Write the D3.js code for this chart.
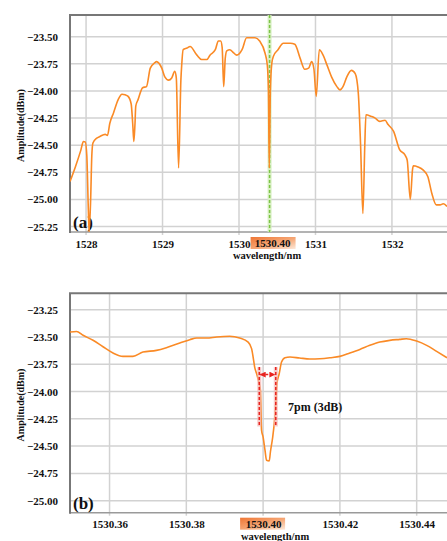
<!DOCTYPE html>
<html>
<head>
<meta charset="utf-8">
<script src="https://cdn.jsdelivr.net/npm/d3@7"></script>
<style>
  body { margin: 0; background: #fff; }
  svg text { font-family: "Liberation Serif", "Times New Roman", serif !important; font-weight: bold; }
</style>
</head>
<body>
<script>
// panel (a): broad spectrum
const wavelengthA = [1527.79, 1527.86, 1527.93, 1527.965, 1527.99, 1528.01, 1528.03, 1528.04, 1528.06, 1528.075,
  1528.09, 1528.14, 1528.18, 1528.25, 1528.28, 1528.31, 1528.36, 1528.42, 1528.47, 1528.51,
  1528.55, 1528.59, 1528.61, 1528.625, 1528.64, 1528.65, 1528.68, 1528.74, 1528.79, 1528.84,
  1528.90, 1528.92, 1528.99, 1529.03, 1529.08, 1529.12, 1529.16, 1529.18, 1529.21, 1529.24,
  1529.25, 1529.27, 1529.32, 1529.36, 1529.45, 1529.51, 1529.58, 1529.62, 1529.69, 1529.73,
  1529.76, 1529.78, 1529.80, 1529.82, 1529.84, 1529.88, 1529.93, 1529.97, 1530.04, 1530.10,
  1530.21, 1530.27, 1530.34, 1530.37, 1530.385, 1530.396, 1530.41, 1530.43, 1530.45, 1530.51,
  1530.58, 1530.67, 1530.73, 1530.80, 1530.86, 1530.91, 1530.95, 1530.98, 1531.01, 1531.05,
  1531.10, 1531.15, 1531.21, 1531.28, 1531.32, 1531.36, 1531.41, 1531.47, 1531.52, 1531.56,
  1531.59, 1531.62, 1531.645, 1531.66, 1531.73, 1531.78, 1531.84, 1531.91, 1531.95, 1532.02,
  1532.10, 1532.17, 1532.20, 1532.24, 1532.27, 1532.28, 1532.34, 1532.41, 1532.47, 1532.52,
  1532.58, 1532.63, 1532.67, 1532.72]
const amplitudeA = [-24.835, -24.70, -24.55, -24.466, -24.47, -24.60, -25.10, -25.30, -25.00, -24.60,
  -24.48, -24.435, -24.42, -24.40, -24.41, -24.30, -24.20, -24.08, -24.03, -24.035,
  -24.05, -24.12, -24.30, -24.466, -24.30, -24.14, -24.08, -23.97, -23.96, -23.79,
  -23.74, -23.73, -23.79, -23.87, -23.90, -23.88, -23.82, -23.88, -24.71, -23.90,
  -23.77, -23.62, -23.605, -23.59, -23.67, -23.71, -23.71, -23.67, -23.62, -23.54,
  -23.54, -23.60, -23.96, -23.70, -23.63, -23.62, -23.65, -23.67, -23.62, -23.51,
  -23.51, -23.54, -23.65, -23.76, -24.00, -24.71, -24.00, -23.74, -23.68, -23.62,
  -23.56, -23.56, -23.57, -23.70, -23.80, -23.79, -23.73, -23.80, -24.05, -23.62,
  -23.67, -23.76, -23.87, -23.96, -23.99, -23.96, -23.87, -23.81, -23.84, -24.02,
  -24.50, -25.13, -24.50, -24.22, -24.235, -24.25, -24.28, -24.27, -24.31, -24.37,
  -24.54, -24.59, -24.64, -25.00, -24.72, -24.69, -24.70, -24.73, -24.79, -24.94,
  -25.05, -25.05, -25.04, -25.065]

// panel (b): zoom on the 1530.40 nm notch
const wavelengthB = [1530.3497, 1530.3514, 1530.3531, 1530.3557, 1530.3583, 1530.3609, 1530.3635, 1530.3661, 1530.3687, 1530.3722,
  1530.3748, 1530.3766, 1530.3783, 1530.3809, 1530.3827, 1530.3853, 1530.3879, 1530.3913, 1530.3939, 1530.3961,
  1530.3970, 1530.3974, 1530.3978, 1530.3983, 1530.3990, 1530.3993, 1530.3996, 1530.4000, 1530.4005, 1530.4009,
  1530.4016, 1530.4019, 1530.4025, 1530.4029, 1530.4033, 1530.4036, 1530.4042, 1530.4048, 1530.4057, 1530.4070,
  1530.4095, 1530.4122, 1530.4148, 1530.4174, 1530.4200, 1530.4226, 1530.4252, 1530.4278, 1530.4304, 1530.4330,
  1530.4356, 1530.4373, 1530.4400, 1530.4426, 1530.4452, 1530.4479]
const amplitudeB = [-23.455, -23.45, -23.485, -23.53, -23.59, -23.647, -23.678, -23.678, -23.638, -23.623,
  -23.598, -23.577, -23.556, -23.525, -23.51, -23.51, -23.50, -23.494, -23.51, -23.547,
  -23.607, -23.684, -23.776, -23.836, -23.928, -23.989, -24.355, -24.417, -24.54, -24.63,
  -24.636, -24.554, -24.417, -24.294, -24.11, -23.928, -23.836, -23.73, -23.69, -23.684,
  -23.693, -23.702, -23.699, -23.69, -23.678, -23.647, -23.614, -23.577, -23.547, -23.531,
  -23.522, -23.516, -23.538, -23.577, -23.632, -23.69]

const xTicksA = [1528, 1529, 1530, 1531, 1532]
const yTicksA = [-23.50, -23.75, -24.00, -24.25, -24.50, -24.75, -25.00, -25.25]
const xTicksB = [1530.36, 1530.38, 1530.40, 1530.42, 1530.44]
const yTicksB = [-23.25, -23.50, -23.75, -24.00, -24.25, -24.50, -24.75, -25.00]

// 3 dB bandwidth marker in panel (b)
const bandEdges = [1530.3990, 1530.4033]
const bandSpan = [-23.776, -24.32]
const bandArrowLevel = -23.845
const bandLabel = '7pm (3dB)'
const markedWavelength = 1530.40

const W = 447
const H = 541
const lineColor = '#fa8a26'
const serif = '"Liberation Serif", "Times New Roman", serif'

const svg = d3.select('body').append('svg')
  .attr('width', W)
  .attr('height', H)
  .attr('font-family', serif)

const defs = svg.append('defs')
const grad = defs.append('linearGradient')
  .attr('id', 'hl')
  .attr('x1', 0).attr('y1', 0).attr('x2', 1).attr('y2', 1)
grad.append('stop').attr('offset', '0%').attr('stop-color', '#ef7634')
grad.append('stop').attr('offset', '55%').attr('stop-color', '#f6a877')
grad.append('stop').attr('offset', '100%').attr('stop-color', '#fde9da')

defs.append('marker')
  .attr('id', 'arr')
  .attr('viewBox', '0 0 10 10')
  .attr('refX', 9).attr('refY', 5)
  .attr('markerWidth', 4).attr('markerHeight', 4)
  .attr('orient', 'auto-start-reverse')
  .append('path')
  .attr('d', 'M0,0 L10,5 L0,10 z')
  .attr('fill', '#e8231f')

function drawPanel(cfg) {
  const x = d3.scaleLinear().domain(cfg.xDomain).range([70, W])
  const y = d3.scaleLinear().domain(cfg.yDomain).range([cfg.bottom, cfg.top])

  const g = svg.append('g')

  defs.append('clipPath')
    .attr('id', cfg.id + 'clip')
    .append('rect')
    .attr('x', 70).attr('y', cfg.top)
    .attr('width', W - 70).attr('height', cfg.bottom - cfg.top)

  // grid
  g.append('g')
    .selectAll('line.h')
    .data(cfg.yTicks)
    .join('line')
    .attr('x1', 70).attr('x2', W)
    .attr('y1', d => y(d)).attr('y2', d => y(d))
    .attr('stroke', '#d2d2d2')
    .attr('stroke-width', 1.5)

  g.append('g')
    .selectAll('line.v')
    .data(cfg.xTicks)
    .join('line')
    .attr('x1', d => x(d)).attr('x2', d => x(d))
    .attr('y1', cfg.top).attr('y2', cfg.bottom + 3)
    .attr('stroke', '#d2d2d2')
    .attr('stroke-width', 1.5)

  // frame
  g.append('line')
    .attr('x1', 70).attr('x2', W).attr('y1', cfg.bottom).attr('y2', cfg.bottom)
    .attr('stroke', '#9a9a9a').attr('stroke-width', 1.5)
  g.append('line')
    .attr('x1', 69).attr('x2', W).attr('y1', cfg.top).attr('y2', cfg.top)
    .attr('stroke', '#777').attr('stroke-width', 2)
  g.append('line')
    .attr('x1', 70).attr('x2', 70).attr('y1', cfg.top).attr('y2', cfg.bottom + 1)
    .attr('stroke', '#777').attr('stroke-width', 2)

  // highlight box behind the marked tick label
  const hx = x(markedWavelength) + cfg.hlShift
  g.append('rect')
    .attr('x', hx - 22).attr('y', cfg.bottom + 5)
    .attr('width', 45).attr('height', 12)
    .attr('fill', 'url(#hl)')

  // y axis labels
  const yAxis = g.append('g')
    .attr('transform', 'translate(70,0)')
    .call(d3.axisLeft(y).tickValues(cfg.yTicks).tickSize(0).tickPadding(12).tickFormat(d3.format('.2f')))
  yAxis.attr('font-family', serif)
  yAxis.select('.domain').remove()
  yAxis.selectAll('text')
    .attr('font-size', 11)
    .attr('font-weight', 'bold')
    .attr('fill', '#111')

  // x axis labels
  const xAxis = g.append('g')
    .attr('transform', `translate(0,${cfg.bottom})`)
    .call(d3.axisBottom(x).tickValues(cfg.xTicks).tickSize(0).tickPadding(8).tickFormat(cfg.xFormat))
  xAxis.attr('font-family', serif)
  xAxis.select('.domain').remove()
  xAxis.selectAll('text')
    .attr('font-size', 11)
    .attr('font-weight', 'bold')
    .attr('fill', '#111')

  if (cfg.extraLabel) {
    g.append('text')
      .attr('x', hx)
      .attr('y', cfg.bottom + 15)
      .attr('text-anchor', 'middle')
      .attr('font-size', 11)
      .attr('fill', '#111')
      .text(d3.format('.2f')(markedWavelength))
  }

  g.append('text')
    .attr('x', cfg.xTitleX)
    .attr('y', cfg.bottom + 27)
    .attr('text-anchor', 'middle')
    .attr('font-size', 10.5)
    .attr('fill', '#111')
    .text('wavelength/nm')

  g.append('text')
    .attr('transform', `translate(24,${(cfg.top + cfg.bottom) / 2 + 2}) rotate(-90)`)
    .attr('text-anchor', 'middle')
    .attr('font-size', 10)
    .attr('fill', '#111')
    .text('Amplitude(dBm)')

  g.append('text')
    .attr('x', 73)
    .attr('y', cfg.bottom - 4)
    .attr('font-size', 17)
    .attr('fill', '#111')
    .text(cfg.tag)

  return { g, x, y }
}

// panel (a)
const pa = drawPanel({
  id: 'a', top: 15, bottom: 232,
  xDomain: [1527.79, 1532.72], yDomain: [-25.30, -23.30],
  xTicks: xTicksA, yTicks: yTicksA,
  xFormat: d3.format('d'), extraLabel: true, hlShift: 3,
  xTitleX: 267, tag: '(a)'
})

pa.g.append('line')
  .attr('x1', pa.x(markedWavelength)).attr('x2', pa.x(markedWavelength))
  .attr('y1', 15).attr('y2', 232)
  .attr('stroke', '#d8efc4').attr('stroke-width', 4)
pa.g.append('line')
  .attr('x1', pa.x(markedWavelength)).attr('x2', pa.x(markedWavelength))
  .attr('y1', 15).attr('y2', 232)
  .attr('stroke', '#7cc544').attr('stroke-width', 1.5)
  .attr('stroke-dasharray', '3,2')

const lineA = d3.line()
  .x((d, i) => pa.x(wavelengthA[i]))
  .y(d => pa.y(d))
  .curve(d3.curveMonotoneX)

pa.g.append('path')
  .datum(amplitudeA)
  .attr('clip-path', 'url(#aclip)')
  .attr('d', lineA)
  .attr('fill', 'none')
  .attr('stroke', lineColor)
  .attr('stroke-width', 1.6)

// panel (b)
const pb = drawPanel({
  id: 'b', top: 293.3, bottom: 512.7,
  xDomain: [1530.3497, 1530.4479], yDomain: [-25.11, -23.10],
  xTicks: xTicksB, yTicks: yTicksB,
  xFormat: d3.format('.2f'), extraLabel: false, hlShift: -1,
  xTitleX: 275, tag: '(b)'
})

const lineB = d3.line()
  .x((d, i) => pb.x(wavelengthB[i]))
  .y(d => pb.y(d))
  .curve(d3.curveMonotoneX)

pb.g.append('path')
  .datum(amplitudeB)
  .attr('clip-path', 'url(#bclip)')
  .attr('d', lineB)
  .attr('fill', 'none')
  .attr('stroke', lineColor)
  .attr('stroke-width', 1.6)

// bandwidth marker
const band = pb.g.append('g')
band.selectAll('line.glow')
  .data(bandEdges)
  .join('line')
  .attr('x1', d => pb.x(d)).attr('x2', d => pb.x(d))
  .attr('y1', pb.y(bandSpan[0])).attr('y2', pb.y(bandSpan[1]))
  .attr('stroke', '#f4b3b0').attr('stroke-width', 4).attr('stroke-opacity', 0.7)
band.selectAll('line.dash')
  .data(bandEdges)
  .join('line')
  .attr('x1', d => pb.x(d)).attr('x2', d => pb.x(d))
  .attr('y1', pb.y(bandSpan[0])).attr('y2', pb.y(bandSpan[1]))
  .attr('stroke', '#e8231f').attr('stroke-width', 1.5)
  .attr('stroke-dasharray', '3,2')
band.append('line')
  .attr('x1', pb.x(bandEdges[0]) + 1).attr('x2', pb.x(bandEdges[1]) - 1)
  .attr('y1', pb.y(bandArrowLevel)).attr('y2', pb.y(bandArrowLevel))
  .attr('stroke', '#e8231f').attr('stroke-width', 1.5)
  .attr('stroke-dasharray', '3,2')
  .attr('marker-start', 'url(#arr)')
  .attr('marker-end', 'url(#arr)')

pb.g.append('text')
  .attr('x', 288)
  .attr('y', 411)
  .attr('font-size', 12)
  .attr('fill', '#111')
  .text(bandLabel)
</script>
</body>
</html>
